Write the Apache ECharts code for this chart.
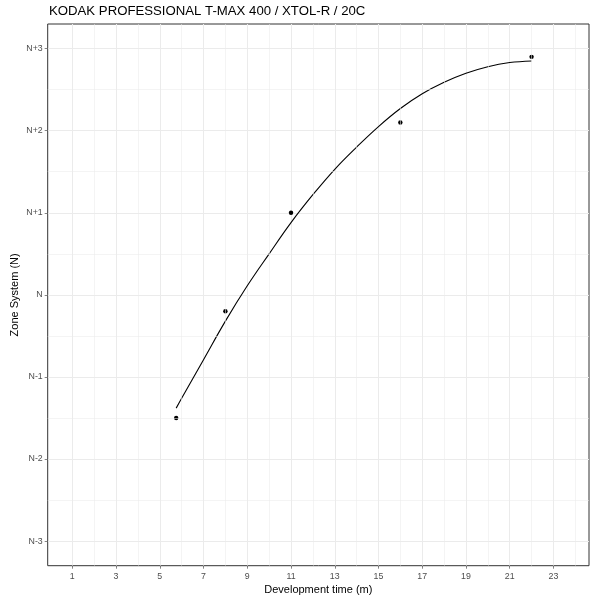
<!DOCTYPE html>
<html>
<head>
<meta charset="utf-8">
<script src="https://cdn.jsdelivr.net/npm/echarts@6/dist/echarts.min.js"></script>
<style>
html,body{margin:0;padding:0;background:#fff;}
#chart{width:600px;height:600px;}
</style>
</head>
<body>
<div id="chart"></div>
<script>
// ---- data ----
const titleText = 'KODAK PROFESSIONAL T-MAX 400 / XTOL-R / 20C';
const xTicks = [1, 3, 5, 7, 9, 11, 13, 15, 17, 19, 21, 23];
const xMinor = [2, 4, 6, 8, 10, 12, 14, 16, 18, 20, 22, 24];
const yTicks = [-3, -2, -1, 0, 1, 2, 3];
const yTickLabels = ['N-3', 'N-2', 'N-1', 'N', 'N+1', 'N+2', 'N+3'];
const yMinor = [-2.5, -1.5, -0.5, 0.5, 1.5, 2.5];
const pointX = [5.75, 8, 11, 16, 22];
const pointY = [-1.5, -0.2, 1.0, 2.1, 2.9];
const curveX = [5.75, 6, 7, 8, 9, 10, 11, 12, 13, 14, 15, 16, 17, 18, 19, 20, 21, 22];
const curveY = [-1.38, -1.26, -0.79, -0.32, 0.11, 0.50, 0.88, 1.22, 1.53, 1.80, 2.05, 2.27, 2.45, 2.59, 2.70, 2.78, 2.83, 2.85];

const FONT = '"Liberation Sans", Arial, Helvetica, sans-serif';
const chart = echarts.init(document.getElementById('chart'), null, {renderer: 'canvas'});

const minorLines = xMinor.map(v => ({xAxis: v})).concat(yMinor.map(v => ({yAxis: v})));

chart.setOption({
  animation: false,
  backgroundColor: '#ffffff',
  textStyle: {fontFamily: FONT},
  title: {
    text: titleText,
    left: 44,
    top: -0.5,
    textStyle: {fontFamily: FONT, fontSize: 13.2, fontWeight: 'normal', color: '#000000'}
  },
  grid: {
    left: 47.7, right: 11, top: 24, bottom: 34.3,
    outerBoundsMode: 'none',
    containLabel: false,
    show: true, borderColor: '#333333', borderWidth: 1, backgroundColor: '#ffffff'
  },
  xAxis: {
    type: 'value',
    min: -0.125, max: 24.625,
    name: 'Development time (m)',
    nameLocation: 'middle',
    nameGap: 18.5,
    nameMoveOverlap: false,
    nameTextStyle: {fontFamily: FONT, fontSize: 11, color: '#000000'},
    axisLine: {show: false, onZero: false},
    axisTick: {show: true, customValues: xTicks, length: 3, lineStyle: {color: '#333333', width: 0.6}},
    axisLabel: {customValues: xTicks, fontSize: 8.8, color: '#4d4d4d', margin: 6, fontFamily: FONT},
    splitLine: {show: true, lineStyle: {color: '#ebebeb', width: 1.07}}
  },
  yAxis: {
    type: 'value',
    min: -3.3, max: 3.3,
    name: 'Zone System (N)',
    nameLocation: 'middle',
    nameRotate: 90,
    nameGap: 27,
    nameMoveOverlap: false,
    nameTextStyle: {fontFamily: FONT, fontSize: 11, color: '#000000'},
    axisLine: {show: false, onZero: false},
    axisTick: {show: true, customValues: yTicks, length: 3, lineStyle: {color: '#333333', width: 0.6}},
    axisLabel: {
      customValues: yTicks, fontSize: 8.8, color: '#4d4d4d', margin: 5, fontFamily: FONT,
      formatter: v => { const i = yTicks.indexOf(Math.round(v)); return i >= 0 ? yTickLabels[i] : ''; }
    },
    splitLine: {show: true, lineStyle: {color: '#ebebeb', width: 1.07}}
  },
  series: [
    {
      type: 'line', data: [], silent: true, z: 1,
      markLine: {
        silent: true, symbol: 'none', animation: false,
        label: {show: false},
        lineStyle: {color: '#ebebeb', width: 0.55, type: 'solid'},
        emphasis: {disabled: true},
        data: minorLines
      }
    },
    {
      type: 'line',
      data: curveX.map((x, i) => [x, curveY[i]]),
      smooth: 0.4,
      showSymbol: false,
      symbol: 'none',
      lineStyle: {color: '#000000', width: 1.1},
      z: 3
    },
    {
      type: 'scatter',
      data: pointX.map((x, i) => [x, pointY[i]]),
      symbol: 'circle',
      symbolSize: 4.4,
      itemStyle: {color: '#000000', borderWidth: 0, opacity: 1},
      z: 4
    }
  ]
});
</script>
</body>
</html>
